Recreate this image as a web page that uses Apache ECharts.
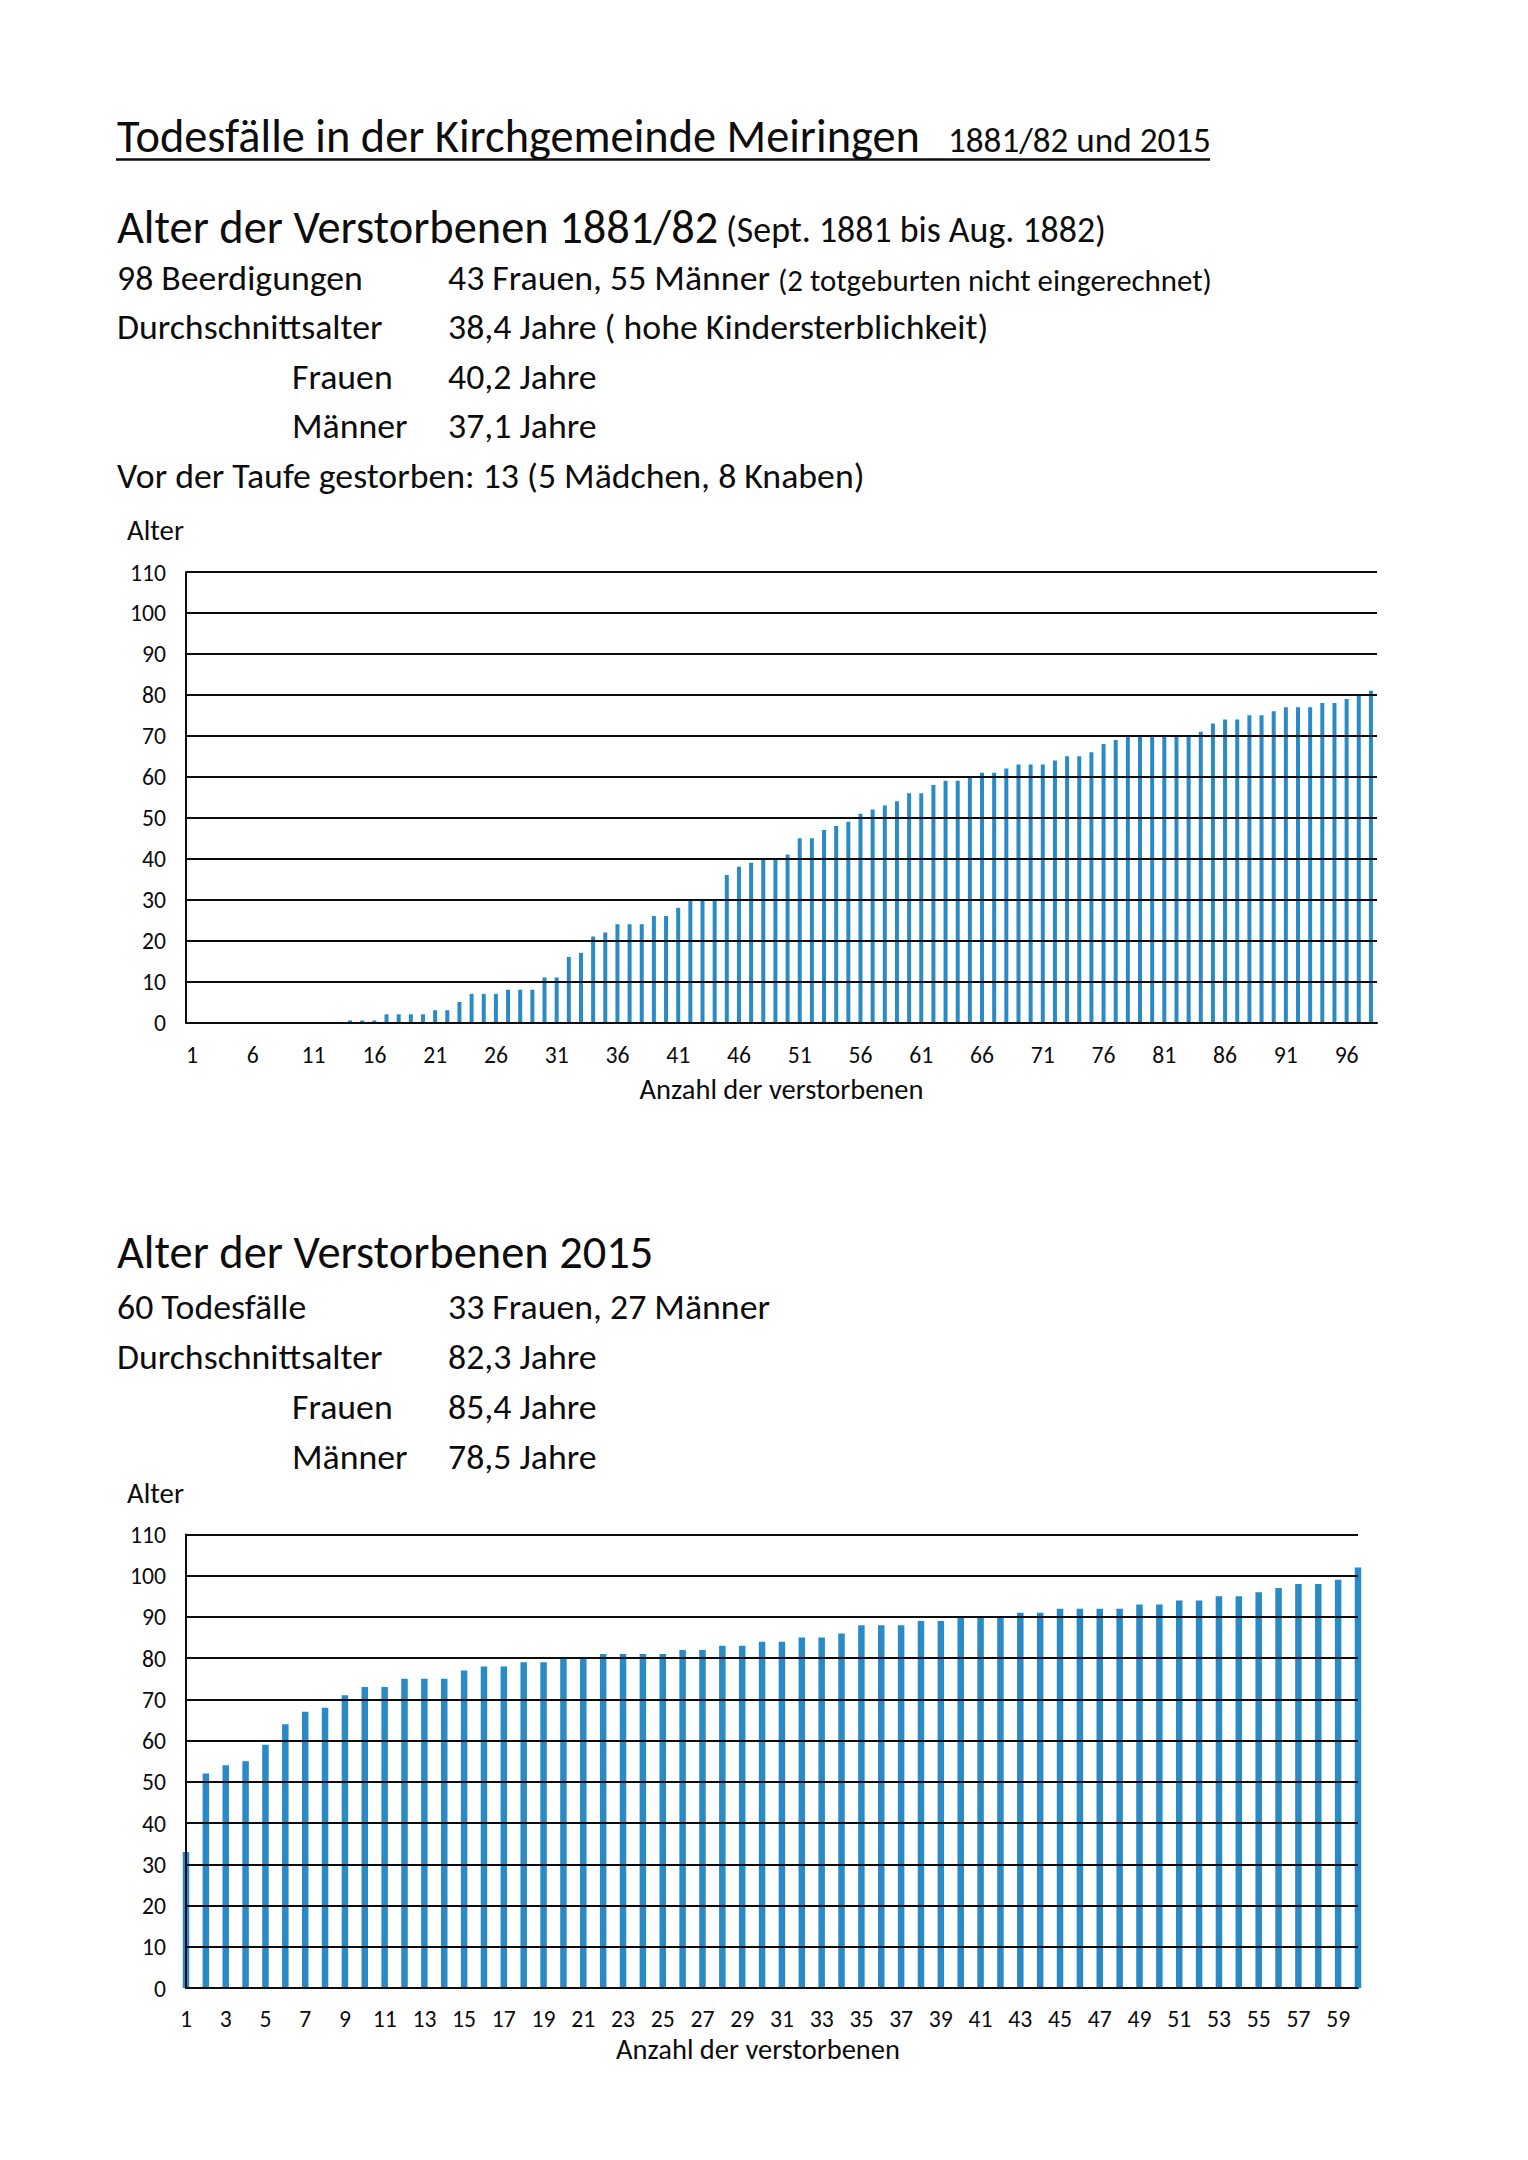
<!DOCTYPE html>
<html>
<head>
<meta charset="utf-8">
<script src="https://cdn.jsdelivr.net/npm/echarts@6/dist/echarts.min.js"></script>
<style>
  html, body { margin: 0; padding: 0; background: #ffffff; }
  #chart { width: 1528px; height: 2160px; }
</style>
</head>
<body>
<div id="chart"></div>
<script>
// ---------- data ----------
const ages1881 = [
  0, 0, 0, 0, 0, 0, 0, 0, 0, 0, 0, 0, 0,
  0.5, 0.5, 0.5, 2, 2, 2, 2, 3, 3, 5, 7, 7, 7, 8, 8, 8, 11, 11,
  16, 17, 21, 22, 24, 24, 24, 26, 26, 28, 30, 30, 30,
  36, 38, 39, 40, 40, 41, 45, 45, 47, 48, 49, 51, 52, 53, 54,
  56, 56, 58, 59, 59, 60, 61, 61, 62, 63, 63, 63, 64, 65, 65, 66,
  68, 69, 70, 70, 70, 70, 70, 70, 71, 73, 74, 74, 75, 75, 76,
  77, 77, 77, 78, 78, 79, 80, 81
];
const ages2015 = [
  33, 52, 54, 55, 59, 64, 67, 68, 71, 73, 73, 75, 75, 75, 77, 78, 78,
  79, 79, 80, 80, 81, 81, 81, 81, 82, 82, 83, 83, 84, 84, 85, 85, 86,
  88, 88, 88, 89, 89, 90, 90, 90, 91, 91, 92, 92, 92, 92, 93, 93,
  94, 94, 95, 95, 96, 97, 98, 98, 99, 102
];
const categories1881 = ages1881.map((_, i) => String(i + 1));
const categories2015 = ages2015.map((_, i) => String(i + 1));

const yAxisName = 'Alter';
const xAxisName = 'Anzahl der verstorbenen';

const titleMain = 'Todesfälle in der Kirchgemeinde Meiringen';
const titleYears = '1881/82 und 2015';
const head1 = 'Alter der Verstorbenen 1881/82';
const head1Note = '(Sept. 1881 bis Aug. 1882)';
const head2 = 'Alter der Verstorbenen 2015';

// ---------- text fitting ----------
const FONT = 'Carlito, Lato, sans-serif';
const mctx = document.createElement('canvas').getContext('2d');
function fit(text, target) {
  mctx.font = '100px ' + FONT;
  return 100 * target / mctx.measureText(text).width;
}
function avg(a) { return a.reduce((s, v) => s + v, 0) / a.length; }

const sTitle = fit(titleMain, 803);
const sYears = fit(titleYears, 263);
const sHead = avg([fit(head1, 602), fit(head2, 536)]);
const sNote = fit(head1Note, 380);
const sBody = avg([
  fit('98 Beerdigungen', 245), fit('Durchschnittsalter', 266),
  fit('43 Frauen, 55 Männer', 319), fit('38,4 Jahre ( hohe Kindersterblichkeit)', 541),
  fit('Vor der Taufe gestorben: 13 (5 Mädchen, 8 Knaben)', 754),
  fit('60 Todesfälle', 192), fit('33 Frauen, 27 Männer', 319)
]);
const sSmall = fit('(2 totgeburten nicht eingerechnet)', 434);
const sAlter = fit(yAxisName, 57);
const sTick = fit('110', 36);
const sAxisName = fit(xAxisName, 284);

const INK = '#0d0d0d';
function txt(text, x, baseline, size) {
  return {
    type: 'text', x: x, y: baseline - 0.35 * size, silent: true,
    style: { text: text, fontSize: size, fontFamily: FONT, fill: INK,
             align: 'left', verticalAlign: 'middle' }
  };
}

const graphics = [
  txt(titleMain, 117, 152, sTitle),
  txt(titleYears, 948, 152, sYears),
  { type: 'line', silent: true, shape: { x1: 116, y1: 159.5, x2: 1210, y2: 159.5 },
    style: { stroke: INK, lineWidth: 2.5 } },
  txt(head1, 117, 243, sHead),
  txt(head1Note, 726, 243, sNote),
  txt('98 Beerdigungen', 117, 291, sBody),
  txt('43 Frauen, 55 Männer', 448, 291, sBody),
  txt('(2 totgeburten nicht eingerechnet)', 778, 291, sSmall),
  txt('Durchschnittsalter', 117, 340, sBody),
  txt('38,4 Jahre ( hohe Kindersterblichkeit)', 448, 340, sBody),
  txt('Frauen', 292, 390, sBody),
  txt('40,2 Jahre', 448, 390, sBody),
  txt('Männer', 292, 439, sBody),
  txt('37,1 Jahre', 448, 439, sBody),
  txt('Vor der Taufe gestorben: 13 (5 Mädchen, 8 Knaben)', 117, 489, sBody),
  txt(yAxisName, 127, 541, sAlter),

  txt(head2, 117, 1268, sHead),
  txt('60 Todesfälle', 117, 1320, sBody),
  txt('33 Frauen, 27 Männer', 448, 1320, sBody),
  txt('Durchschnittsalter', 117, 1370, sBody),
  txt('82,3 Jahre', 448, 1370, sBody),
  txt('Frauen', 292, 1420, sBody),
  txt('85,4 Jahre', 448, 1420, sBody),
  txt('Männer', 292, 1470, sBody),
  txt('78,5 Jahre', 448, 1470, sBody),
  txt(yAxisName, 127, 1504, sAlter)
];

const BAR = '#2a8ac6';
function yAxisCfg(gridIndex) {
  return {
    type: 'value', gridIndex: gridIndex, min: 0, max: 110, interval: 10, z: 3,
    axisLine: { show: true, lineStyle: { color: INK, width: 2 } },
    axisTick: { show: false },
    splitLine: { show: true, lineStyle: { color: INK, width: 2 } },
    axisLabel: { fontSize: sTick, fontFamily: FONT, color: INK, margin: 20 }
  };
}
function xAxisCfg(gridIndex, cats, interval, boundaryGap, labelMargin, nameGap, namePad) {
  return {
    type: 'category', gridIndex: gridIndex, data: cats, boundaryGap: boundaryGap,
    axisLine: { show: true, lineStyle: { color: INK, width: 2 } },
    axisTick: { show: false },
    axisLabel: { interval: interval, fontSize: sTick, fontFamily: FONT, color: INK,
                 margin: labelMargin, lineHeight: sTick * 1.1 },
    name: xAxisName, nameLocation: 'middle', nameGap: nameGap,
    nameTextStyle: { fontSize: sAxisName, fontFamily: FONT, color: INK,
                     padding: namePad, lineHeight: sAxisName * 1.1 }
  };
}

const chart = echarts.init(document.getElementById('chart'), null,
  { renderer: 'svg', width: 1528, height: 2160 });
chart.setOption({
  backgroundColor: '#ffffff',
  animation: false,
  textStyle: { fontFamily: FONT },
  grid: [
    { left: 186, top: 572, width: 1191, height: 450.5 },
    { left: 186, top: 1534.5, width: 1172, height: 453.5 }
  ],
  xAxis: [
    xAxisCfg(0, categories1881, 4, true, 19, 51, [0, 0, 0, 0]),
    xAxisCfg(1, categories2015, 1, false, 17, 46, [0, 28, 0, 0])
  ],
  yAxis: [yAxisCfg(0), yAxisCfg(1)],
  series: [
    { type: 'bar', xAxisIndex: 0, yAxisIndex: 0, data: ages1881, barWidth: 4,
      itemStyle: { color: BAR }, silent: true },
    { type: 'bar', xAxisIndex: 1, yAxisIndex: 1, data: ages2015, barWidth: 6.5,
      clip: false, itemStyle: { color: BAR }, silent: true }
  ],
  graphic: graphics
});
</script>
</body>
</html>
